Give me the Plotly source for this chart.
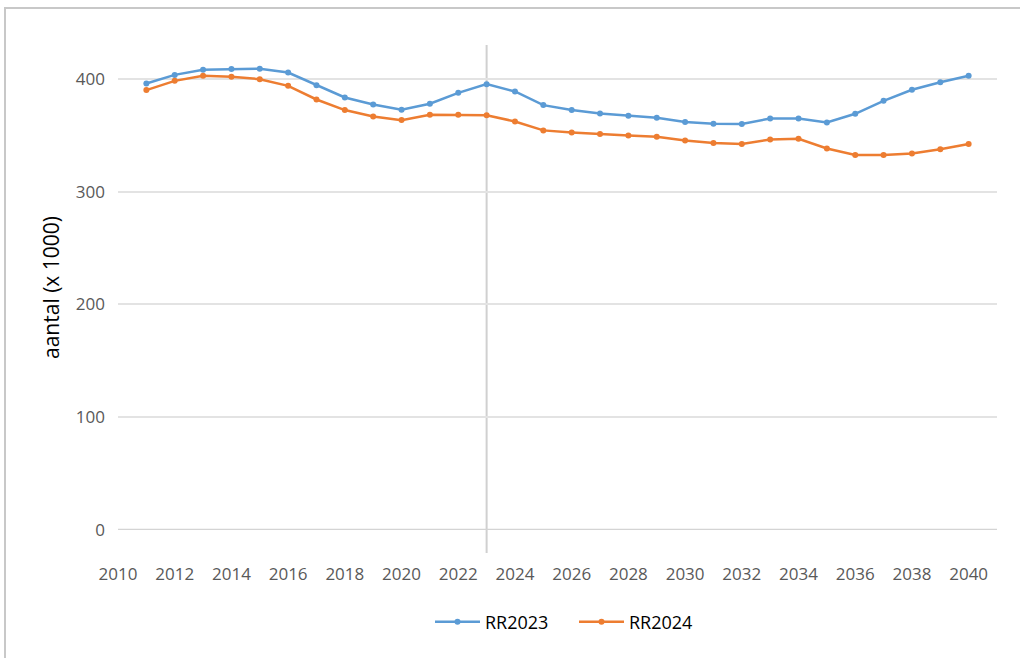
import plotly.graph_objects as go

years = list(range(2011, 2041))
rr2023 = [395.8, 403.5, 408.0, 408.8, 409.0, 405.6, 394.4, 383.5, 377.3, 372.6,
          377.9, 387.6, 395.3, 388.8, 376.7, 372.3, 369.3, 367.3, 365.5, 361.7,
          360.2, 359.9, 364.9, 364.9, 361.3, 369.0, 380.5, 390.3, 397.0, 402.7]
rr2024 = [390.0, 398.2, 402.7, 401.8, 399.7, 393.8, 381.7, 372.3, 366.7, 363.4,
          368.1, 368.1, 367.8, 362.2, 354.3, 352.5, 351.0, 349.8, 348.7, 345.4,
          343.1, 342.2, 346.3, 346.9, 338.3, 332.5, 332.5, 333.9, 337.5, 342.2]
tick_years = list(range(2010, 2041, 2))
y_ticks = [0, 100, 200, 300, 400]
marker_year = 2023

W, H = 1020, 658
L, R, T, B = 118, 23, 45, 128
pw, ph = W - L - R, H - T - B

fig = go.Figure()
fig.add_trace(go.Scatter(x=years, y=rr2023, name="RR2023", mode="lines+markers",
                         line=dict(color="#5B9BD5", width=2.5),
                         marker=dict(size=6, color="#5B9BD5")))
fig.add_trace(go.Scatter(x=years, y=rr2024, name="RR2024", mode="lines+markers",
                         line=dict(color="#ED7D31", width=2.5),
                         marker=dict(size=6, color="#ED7D31")))

# vertical marker line
fig.add_shape(type="line", xref="x", yref="paper", x0=marker_year, x1=marker_year,
              y0=-(553 - 530) / ph, y1=1, line=dict(color="#d0d0d0", width=2), layer="below")
# zero axis line
fig.add_shape(type="line", xref="paper", yref="y", x0=0, x1=1, y0=0, y1=0,
              line=dict(color="#d4d4d4", width=2.5), layer="below")
# outer border
fig.add_shape(type="rect", xref="paper", yref="paper",
              x0=(5 - L) / pw, x1=(1100 - L) / pw,
              y0=(530 - 700) / ph, y1=(530 - 8) / ph,
              line=dict(color="#c8c8c8", width=2), fillcolor="rgba(0,0,0,0)", layer="below")

fig.update_layout(
    width=W, height=H,
    margin=dict(l=L, r=R, t=T, b=B),
    paper_bgcolor="white", plot_bgcolor="white",
    font=dict(family="Open Sans, DejaVu Sans, sans-serif", color="#595959", size=18),
    showlegend=True,
    legend=dict(orientation="h", x=(430 - L) / pw, xanchor="left", y=(530 - 622) / ph, yanchor="middle",
                font=dict(size=18, color="#000000"), itemwidth=45,
                entrywidth=84, entrywidthmode="pixels"),
    xaxis=dict(range=[2010, 2041], tickmode="array", tickvals=tick_years,
               ticktext=[str(t) for t in tick_years], showgrid=False, zeroline=False,
               showline=False, ticks="", tickfont=dict(size=17, color="#595959"),
               ticklabelstandoff=32),
    yaxis=dict(range=[0, 430], tickmode="array", tickvals=y_ticks,
               showgrid=True, gridcolor="#e3e3e3", gridwidth=2, zeroline=False,
               showline=False, ticks="", tickfont=dict(size=17, color="#595959"),
               ticklabelstandoff=12,
               title=dict(text="aantal (x 1000)", font=dict(size=21, color="#000000"), standoff=10)),
)

fig.write_html("out.html", post_script="document.body.style.margin='0';",
               config={"displayModeBar": False})
